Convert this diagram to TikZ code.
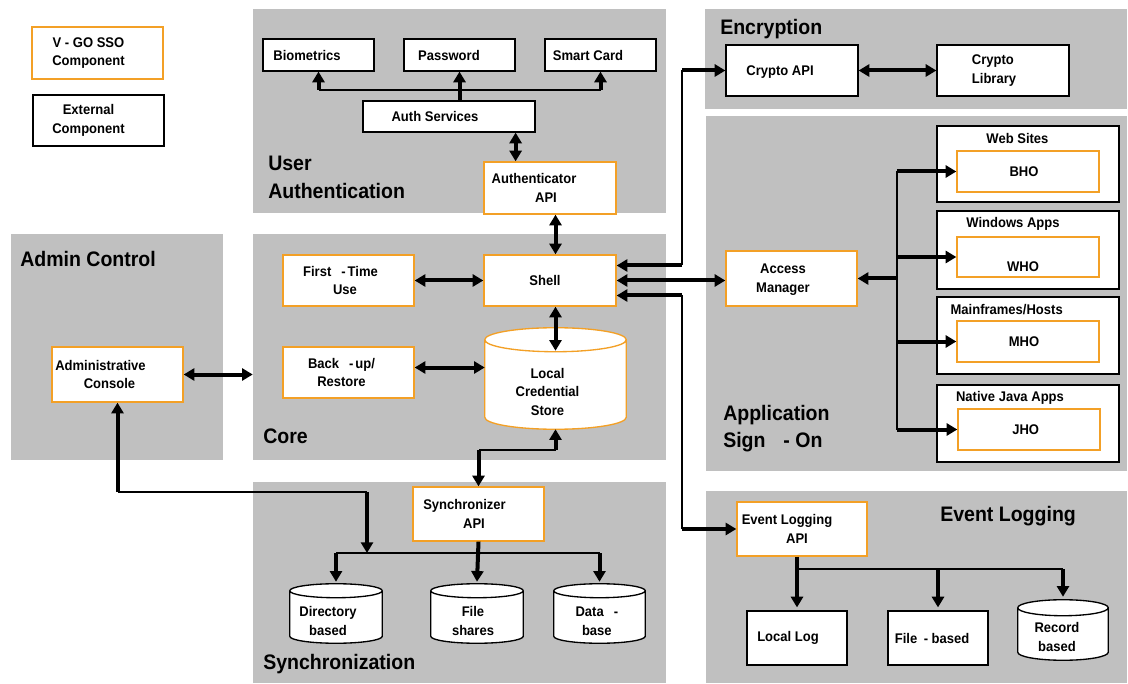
\documentclass[tikz,border=0pt]{standalone}
\usepackage{fontspec}
\newfontfamily\dfont{Liberation Sans}[FakeStretch=0.93]
\usetikzlibrary{arrows.meta,fit,calc}

\definecolor{panelgray}{RGB}{192,192,192}
\definecolor{vgoorange}{RGB}{243,160,38}

% one-column cylinder drawn over a (named, invisible) fitted node
\newcommand\drawcyl[3]{%
  \draw[draw=#3, fill=white, line width=1pt]
    let \p1=(#1.north west), \p2=(#1.north east), \p3=(#1.south west) in
    (\x1,\y1-#2) -- (\x1,\y3+#2)
      arc[start angle=180, end angle=360, x radius={(\x2-\x1)/2}, y radius=#2]
      -- (\x2,\y1-#2)
      arc[start angle=0, end angle=180, x radius={(\x2-\x1)/2}, y radius=#2]
      -- cycle
    (\x1,\y1-#2)
      arc[start angle=180, end angle=360, x radius={(\x2-\x1)/2}, y radius=#2];
}

\begin{document}
\begin{tikzpicture}[x=0.75pt, y=-0.75pt,
  font=\dfont\bfseries\fontsize{10.5pt}{14pt}\selectfont,
  panel/.style={fill=panelgray, draw=none, inner sep=0pt},
  ext/.style={draw=black, fill=white, line width=0.9pt, inner sep=0pt},
  vgo/.style={draw=vgoorange, fill=white, line width=1pt, inner sep=0pt},
  cylbox/.style={draw=none, inner sep=0pt},
  txt/.style={align=center, inner sep=0pt},
  every label/.style={align=center, inner sep=0pt},
  title/.style={anchor=base west, inner sep=0pt,
    font=\dfont\bfseries\fontsize{15.75pt}{21pt}\selectfont},
  thk/.style={line width=3pt},
  thn/.style={line width=1.2pt},
  tip/.style={-{Triangle[length=8pt,width=9pt]}},
  dtip/.style={{Triangle[length=8pt,width=9pt]}-{Triangle[length=8pt,width=9pt]}},
]
\useasboundingbox (0,0) rectangle (1128,684);
\fill[white] (0,0) rectangle (1128,684);

% ---------- panels ----------
\node[panel, fit={(253,9) (666,213)}]    (pUA)   {};
\node[panel, fit={(705,9) (1127,109)}]   (pEnc)  {};
\node[panel, fit={(706,116) (1127,471)}] (pASO)  {};
\node[panel, fit={(706,491) (1127,683)}] (pEL)   {};
\node[panel, fit={(11,234) (223,460)}]   (pAC)   {};
\node[panel, fit={(253,234) (666,460)}]  (pCore) {};
\node[panel, fit={(253,482) (666,683)}]  (pSync) {};

% ---------- panel titles ----------
\node[title] (tUA1)  at (268,171) {User};
\node[title] (tUA2)  at (268,199) {Authentication};
\node[title] (tEnc)  at (720,35)  {Encryption};
\node[title] (tAC)   at (20,267)  {Admin Control};
\node[title] (tCore) at (263,443) {Core};
\node[title] (tASO1) at (723,420) {Application};
\node[title] (tASO2) at (723,447) {Sign\hspace{0.85em}- On};
\node[title] (tSync) at (263,669) {Synchronization};
\node[title] (tEL)   at (940,521) {Event Logging};

% ---------- legend ----------
\node[vgo, fit={(32,27) (163,79)}] (legVgo) {};
\path (legVgo.center) ++(-6.75pt,0) node[txt] (legVgoT) {V - GO SSO\\Component};
\node[ext, fit={(33,95) (164,146)}] (legExt) {};
\path (legExt.center) ++(-7.5pt,0) node[txt] (legExtT) {External\\Component};

% ---------- user authentication ----------
\node[ext, fit={(263,39) (374,71)},   label={[xshift=-8.6pt]center:Biometrics}] (bio) {};
\node[ext, fit={(404,39) (515,71)},   label={[xshift=-7.9pt]center:Password}]   (pwd) {};
\node[ext, fit={(545,39) (656,71)},   label={[xshift=-9.4pt]center:Smart Card}] (smart) {};
\node[ext, fit={(363,101) (535,132)}, label={[xshift=-10.5pt]center:Auth Services}] (auths) {};
\node[vgo, fit={(484,162) (616,214)},
  label={[xshift=-12pt]center:Authenticator\\\hspace*{18pt}API}] (authapi) {};

% ---------- encryption ----------
\node[ext, fit={(726,45) (858,96)},  label={[xshift=-9pt, yshift=-1pt]center:Crypto API}] (capi) {};
\node[ext, fit={(937,45) (1069,96)}, label={[xshift=-6.75pt, align=left]center:Crypto\\Library}] (clib) {};

% ---------- admin control ----------
\node[vgo, fit={(52,347) (183,402)},
  label={[xshift=-12.75pt]center:Administrative\\\hspace*{13.5pt}Console}] (adm) {};

% ---------- core ----------
\node[vgo, fit={(283,255) (414,306)},
  label={[xshift=-6pt]center:First\hspace{7.5pt}-\hspace{1.5pt}Time\\\hspace*{6.75pt}Use}] (ftu) {};
\node[vgo, fit={(484,255) (616,306)}, label={[xshift=-3.75pt]center:Shell}] (shell) {};
\node[vgo, fit={(283,347) (414,398)},
  label={[xshift=-5.25pt]center:Back\hspace{7.5pt}-\hspace{1.5pt}up/\\Restore}] (bkp) {};
\node[cylbox, fit={(485,328) (626,429)}] (lcs) {};

% ---------- synchronization ----------
\node[vgo, fit={(413,487) (544,541)},
  label={[xshift=-10.5pt]center:Synchronizer\\\hspace*{14.25pt}API}] (sapi) {};
\node[cylbox, fit={(290,584) (382,643)}] (dir) {};
\node[cylbox, fit={(431,584) (523,643)}] (fsh) {};
\node[cylbox, fit={(554,584) (645,643)}] (dbs) {};

% ---------- application sign-on ----------
\node[vgo, fit={(726,251) (857,306)},
  label={[xshift=-6.4pt, yshift=-1pt]center:Access\\Manager}] (am) {};
\node[ext, fit={(937,126) (1119,202)},
  label={[anchor=center, xshift=-7.9pt, yshift=-9.75pt]north:Web Sites}] (web) {};
\node[ext, fit={(937,211) (1119,289)},
  label={[anchor=center, xshift=-11.25pt, yshift=-9.75pt]north:Windows Apps}] (win) {};
\node[ext, fit={(937,297) (1119,374)},
  label={[anchor=center, xshift=-16pt, yshift=-9.75pt]north:Mainframes/Hosts}] (mfh) {};
\node[ext, fit={(937,385) (1119,462)},
  label={[anchor=center, xshift=-13.5pt, yshift=-9.75pt]north:Native Java Apps}] (nja) {};
\node[vgo, fit={(957,151) (1099,192)}, label={[xshift=-3pt]center:BHO}] (bho) {};
\node[vgo, fit={(957,237) (1099,277)}, label={[xshift=-3.75pt, yshift=-7.5pt]center:WHO}] (who) {};
\node[vgo, fit={(957,321) (1099,362)}, label={[xshift=-3pt]center:MHO}] (mho) {};
\node[vgo, fit={(958,409) (1100,450)}, label={[xshift=-2.5pt]center:JHO}] (jho) {};

% ---------- event logging ----------
\node[vgo, fit={(737,502) (867,556)},
  label={[xshift=-11.25pt]center:Event Logging\\\hspace*{15pt}API}] (elapi) {};
\node[ext, fit={(747,611) (847,665)}, label={[xshift=-6.75pt]center:Local Log}] (llog) {};
\node[ext, fit={(888,611) (988,665)},
  label={[xshift=-4.5pt]center:File\hspace{5pt}-\hspace{2.5pt}based}] (fbl) {};
\node[cylbox, fit={(1018,600) (1108,660)}] (rec) {};

% ---------- cylinders and their texts ----------
\drawcyl{lcs}{9pt}{vgoorange}
\drawcyl{dir}{5.25pt}{black}
\drawcyl{fsh}{5.25pt}{black}
\drawcyl{dbs}{5.25pt}{black}
\drawcyl{rec}{6pt}{black}
\path (lcs.center) ++(-6pt,-10pt) node[txt] (lcsT) {Local\\Credential\\Store};
\path (dir.center) ++(-6pt,-5.6pt) node[txt] (dirT) {Directory\\based};
\path (fsh.center) ++(-3pt,-5.6pt) node[txt] (fshT) {File\\shares};
\path (dbs.center) ++(-2pt,-5.6pt) node[txt] (dbsT) {Data\hspace{7.5pt}-\\base};
\path (rec.center) ++(-4.5pt,-5.25pt) node[txt] (recT) {Record\\based};

% ---------- connectors: user authentication ----------
\coordinate (uabus) at (0,90);
\draw[thn] (bio.south |- uabus) -- (smart.south |- uabus);
\draw[thk, tip] (bio.south |- uabus) -- (bio.south);
\draw[thk, tip] (smart.south |- uabus) -- (smart.south);
\draw[thk, tip] (auths.north -| pwd.south) -- (pwd.south);
\coordinate (aa) at ($(auths.south east)+(-20,0)$);
\draw[thk, dtip] (aa) -- (aa |- authapi.north);
\draw[thk, dtip] (authapi.south -| lcs.north) -- (shell.north -| lcs.north);

% ---------- connectors: core ----------
\draw[thk, dtip] (ftu.east) -- (shell.west);
\coordinate (bk) at ($(bkp.east)+(0,-5)$);
\draw[thk, dtip] (bk) -- (bk -| lcs.west);
\draw[thk, dtip] (shell.south -| lcs.north) -- ($(lcs.north)+(0,23)$);
\draw[thk, dtip] (adm.east) -- (adm.east -| pCore.west);

% core -> synchronizer
\coordinate (cs) at ($(lcs.south)+(0,21)$);
\draw[thn] (cs) -- (cs -| sapi.north);
\draw[thk, tip] (cs) -- (lcs.south);
\draw[thk, tip] (cs -| sapi.north) -- (sapi.north);

% ---------- connectors: synchronization ----------
\coordinate (sbus) at (0,553);
\coordinate (abus) at (0,492);
\coordinate (adrop) at (367,0);
\draw[thn] (dir.north |- sbus) -- (dbs.north |- sbus);
\draw[thk, tip] (sapi.south) -- ($(fsh.north)+(0,-2)$);
\draw[thk, tip] (dir.north |- sbus) -- ($(dir.north)+(0,-2)$);
\draw[thk, tip] (dbs.north |- sbus) -- ($(dbs.north)+(0,-2)$);
\draw[thn] (adm.south |- abus) -- (adrop |- abus);
\draw[thk, tip] (adm.south |- abus) -- (adm.south);
\draw[thk, tip] (adrop |- abus) -- (adrop |- sbus);

% ---------- connectors: shell to encryption / sign-on / logging ----------
\coordinate (riser) at (682,0);
\coordinate (sh1) at ($(shell.east)+(0,-15)$);
\coordinate (sh3) at ($(shell.east)+(0,15)$);
\draw[thn] (riser |- sh1) -- (riser |- capi.west);
\draw[thk, tip] (riser |- capi.west) -- (capi.west);
\draw[thk, tip] (riser |- sh1) -- (sh1);
\draw[thk, dtip] (shell.east) -- (shell.east -| am.west);
\draw[thn] (riser |- sh3) -- (riser |- elapi.west);
\draw[thk, tip] (riser |- sh3) -- (sh3);
\draw[thk, tip] (riser |- elapi.west) -- (elapi.west);
\draw[thk, dtip] (capi.east) -- (clib.west);

% ---------- connectors: application sign-on ----------
\coordinate (aso) at (897,0);
\draw[thn] (aso |- bho.west) -- (aso |- jho.west);
\draw[thk, tip] (aso |- bho.west) -- (bho.west);
\draw[thk, tip] (aso |- who.west) -- (who.west);
\draw[thk, tip] (aso |- mho.west) -- (mho.west);
\draw[thk, tip] (aso |- jho.west) -- (jho.west);
\draw[thk, tip] (aso |- am.east) -- (am.east);

% ---------- connectors: event logging ----------
\coordinate (ebus) at (0,569);
\draw[thn] (ebus -| llog.north) -- (ebus -| rec.north);
\draw[thk, tip] (elapi.south -| llog.north) -- ($(llog.north)+(0,-3)$);
\draw[thk, tip] (ebus -| fbl.north) -- ($(fbl.north)+(0,-3)$);
\draw[thk, tip] (ebus -| rec.north) -- ($(rec.north)+(0,-3)$);
\end{tikzpicture}
\end{document}
